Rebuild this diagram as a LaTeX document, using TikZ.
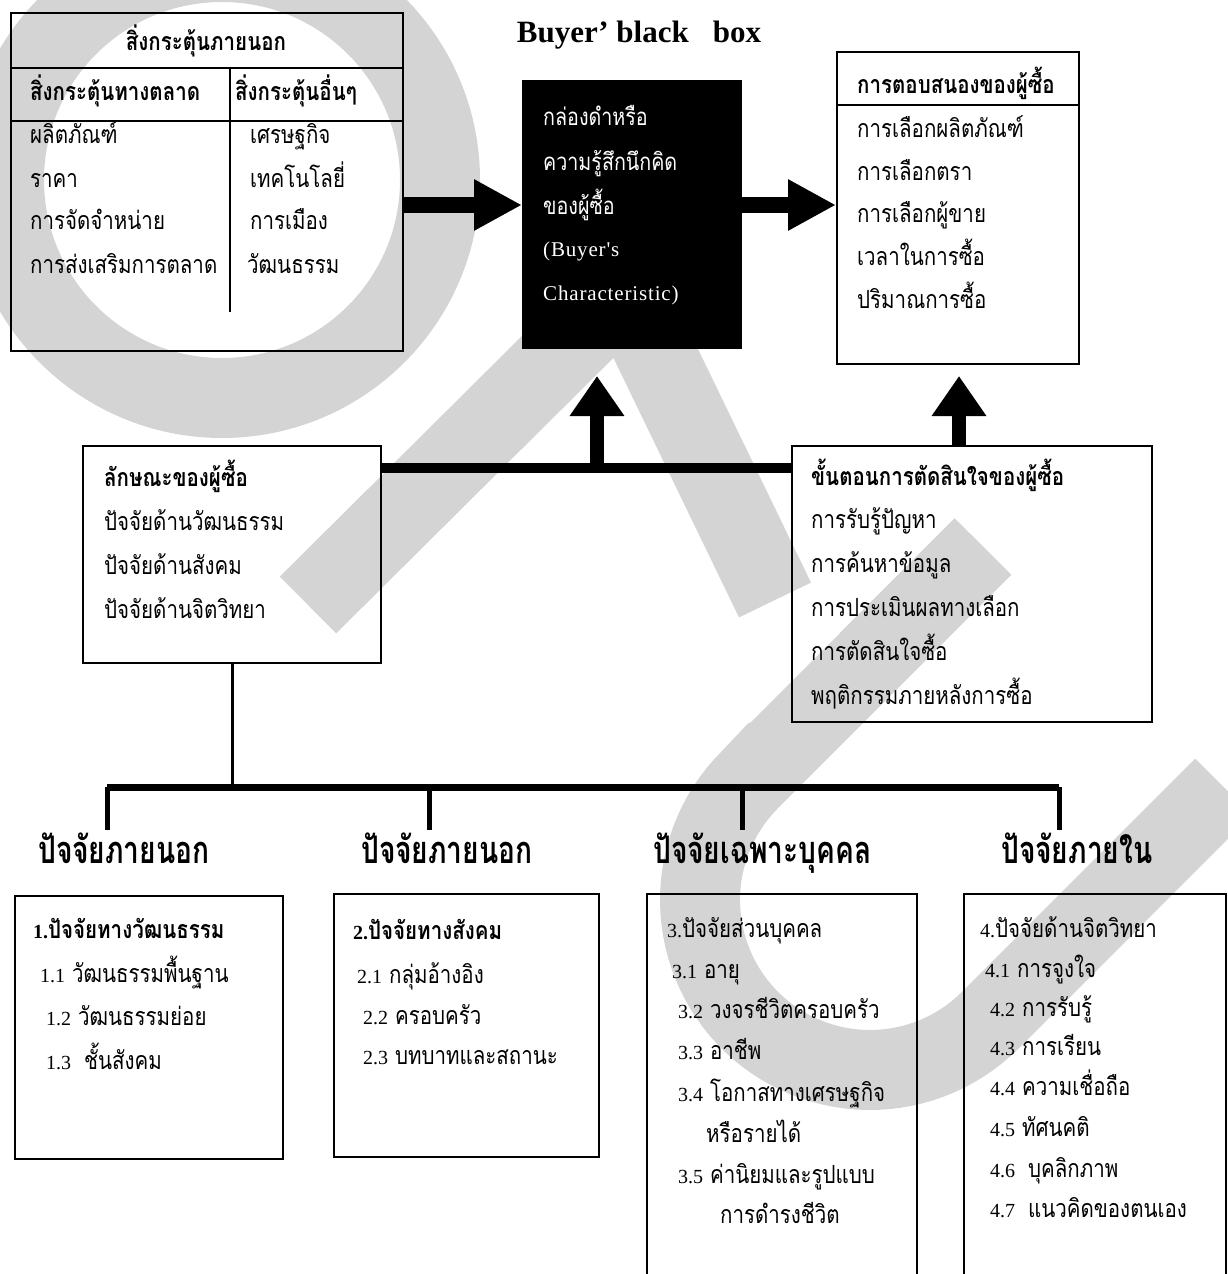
\documentclass[tikz,border=0pt]{standalone}
\usepackage{fontspec}
\setmainfont{Liberation Serif}
\newfontfamily\thai[Script=Thai, FakeStretch=0.82]{Loma}
\newfontfamily\thaiwide[Script=Thai, FakeStretch=0.74]{Loma}
\newfontfamily\lat{Liberation Serif}
\newfontfamily\latsp[LetterSpace=4]{Liberation Serif}
\newcommand\dg[1]{{\lat\fontsize{20}{24}\selectfont #1}}
\usetikzlibrary{arrows.meta}
\begin{document}
\begin{tikzpicture}[x=1pt,y=-1pt,
  wm/.style={black!17},
  frame/.style={draw=black, line width=2pt, inner sep=0pt, anchor=north west},
  txt/.style={anchor=base west, yshift=-7pt, inner sep=0pt, font=\thai\fontsize{25}{28}\selectfont},
  txtb/.style={txt, font=\thai\bfseries\fontsize{25}{28}\selectfont},
  big/.style={anchor=base west, yshift=-12pt, inner sep=0pt, font=\thaiwide\bfseries\fontsize{38}{42}\selectfont},
  wtxt/.style={anchor=base west, yshift=-7pt, inner sep=0pt, text=white, font=\thai\fontsize{24}{28}\selectfont},
  wlat/.style={anchor=base west, yshift=-5pt, inner sep=0pt, text=white, font=\latsp\fontsize{21}{24}\selectfont},
  fat/.style={line width=16pt, -{Triangle[length=48pt,width=48pt]}},
  fatup/.style={line width=14pt, -{Triangle[length=40pt,width=52pt]}},
  rule/.style={line width=2pt},
]
\useasboundingbox (0,0) rectangle (1227,1274);

% ---- light grey logo in the background ----
\fill[wm, even odd rule] (222,180) circle[radius=258pt] (222,180) circle[radius=178pt];
\draw[wm, line width=80pt] (308,605) -- (625,290) -- (775,600);
\draw[wm, line width=80pt] (983,546.5) -- (749.8,779.8)
  -- plot[domain=225:45, samples=60, variable=\t] ({870+170*cos(\t)}, {900+170*sin(\t)})
  -- (1223.5,786.9);

% ---- external stimuli table ----
\node[frame, minimum width=392pt, minimum height=338pt] (stim) at (10,12) {};
\draw[rule] (stim.north west |- 0,68) -- (stim.north east |- 0,68);
\draw[rule] (stim.north west |- 0,121) -- (stim.north east |- 0,121);
\draw[rule] (230,68) -- (230,312);
\node[txtb, anchor=base] (stimh) at (206,43) {สิ่งกระตุ้นภายนอก};
\node[txtb] (mkh) at (30,93) {สิ่งกระตุ้นทางตลาด};
\node[txtb] (oth) at (235,93) {สิ่งกระตุ้นอื่นๆ};
\node[txt] (m1) at (30,136) {ผลิตภัณฑ์};
\node[txt] (m2) at (30,180) {ราคา};
\node[txt] (m3) at (30,222) {การจัดจำหน่าย};
\node[txt] (m4) at (30,266) {การส่งเสริมการตลาด};
\node[txt] (o1) at (250,136) {เศรษฐกิจ};
\node[txt] (o2) at (250,180) {เทคโนโลยี่};
\node[txt] (o3) at (250,222) {การเมือง};
\node[txt] (o4) at (247,266) {วัฒนธรรม};

% ---- black box ----
\node[font=\lat\bfseries\fontsize{31}{34}\selectfont, inner sep=0pt] (title) at (639,35) {Buyer’ black\hspace{24pt}box};
\node[frame, fill=black, minimum width=218pt, minimum height=267pt] (bb) at (522,80) {};
\node[wtxt] (bb1) at (543,118) {กล่องดำหรือ};
\node[wtxt] (bb2) at (543,163) {ความรู้สึกนึกคิด};
\node[wtxt] (bb3) at (543,207) {ของผู้ซื้อ};
\node[wlat] (bb4) at (543,251) {(Buyer's};
\node[wlat] (bb5) at (543,295) {Characteristic)};

% ---- buyer responses ----
\node[frame, minimum width=242pt, minimum height=312pt] (resp) at (836,51) {};
\draw[rule] (resp.north west |- 0,105) -- (resp.north east |- 0,105);
\node[txtb] (rh) at (857,86) {การตอบสนองของผู้ซื้อ};
\node[txt] (r1) at (857,130) {การเลือกผลิตภัณฑ์};
\node[txt] (r2) at (857,173) {การเลือกตรา};
\node[txt] (r3) at (857,215) {การเลือกผู้ขาย};
\node[txt] (r4) at (857,258) {เวลาในการซื้อ};
\node[txt] (r5) at (857,301) {ปริมาณการซื้อ};

% ---- buyer characteristics ----
\node[frame, minimum width=298pt, minimum height=217pt] (chr) at (82,445) {};
\node[txtb] (c0) at (104,479) {ลักษณะของผู้ซื้อ};
\node[txt] (c1) at (104,523) {ปัจจัยด้านวัฒนธรรม};
\node[txt] (c2) at (104,567) {ปัจจัยด้านสังคม};
\node[txt] (c3) at (104,611) {ปัจจัยด้านจิตวิทยา};

% ---- decision process ----
\node[frame, minimum width=360pt, minimum height=276pt] (dec) at (791,445) {};
\node[txtb] (d0) at (811,478) {ขั้นตอนการตัดสินใจของผู้ซื้อ};
\node[txt] (d1) at (811,521) {การรับรู้ปัญหา};
\node[txt] (d2) at (811,565) {การค้นหาข้อมูล};
\node[txt] (d3) at (811,609) {การประเมินผลทางเลือก};
\node[txt] (d4) at (811,653) {การตัดสินใจซื้อ};
\node[txt] (d5) at (811,697) {พฤติกรรมภายหลังการซื้อ};

% ---- thick connectors ----
\coordinate (ay) at (0,205);
\coordinate (bar) at (0,468);
\coordinate (tip1) at (597,376);
\coordinate (tip2) at (959,376);
\draw[fat] (stim.east |- ay) -- (bb.west |- ay);
\draw[fat] (bb.east |- ay) -- (resp.west |- ay);
\draw[line width=10pt] (chr.east |- bar) -- (dec.west |- bar);
\draw[fatup] (tip1 |- bar) -- (tip1);
\draw[fatup] (dec.north -| tip2) -- (tip2);

% ---- factor tree ----
\coordinate (tree) at (0,787);
\coordinate (leaf) at (0,830);
\node[big] (f1) at (38,851) {ปัจจัยภายนอก};
\node[big] (f2) at (361,851) {ปัจจัยภายนอก};
\node[big] (f3) at (653,851) {ปัจจัยเฉพาะบุคคล};
\node[big] (f4) at (1001,851) {ปัจจัยภายใน};
\coordinate (x1) at (107,0);
\coordinate (x2) at (429,0);
\coordinate (x3) at (742,0);
\coordinate (x4) at (1059,0);
\draw[line width=3pt] (chr.south) -- (chr.south |- tree);
\draw[line width=7pt] (x1 |- tree) -- (x4 |- tree);
\foreach \c in {x1,x2,x3,x4}
  \draw[line width=5pt] (\c |- tree) -- (\c |- leaf);

% ---- factor boxes ----
\node[frame, minimum width=268pt, minimum height=263pt] (fa) at (14,895) {};
\node[txtb] (a0) at (33,931) {\dg{1.}ปัจจัยทางวัฒนธรรม};
\node[txt] (a1) at (40,975) {\dg{1.1} วัฒนธรรมพื้นฐาน};
\node[txt] (a2) at (46,1018) {\dg{1.2} วัฒนธรรมย่อย};
\node[txt] (a3) at (46,1062) {\dg{1.3}\hspace{6pt} ชั้นสังคม};

\node[frame, minimum width=265pt, minimum height=263pt] (fb) at (333,893) {};
\node[txtb] (b0) at (353,932) {\dg{2.}ปัจจัยทางสังคม};
\node[txt] (b1) at (357,976) {\dg{2.1} กลุ่มอ้างอิง};
\node[txt] (b2) at (363,1017) {\dg{2.2} ครอบครัว};
\node[txt] (b3) at (363,1057) {\dg{2.3} บทบาทและสถานะ};

\node[frame, minimum width=270pt, minimum height=400pt] (fc) at (646,893) {};
\node[txt] (e0) at (667,930) {\dg{3.}ปัจจัยส่วนบุคคล};
\node[txt] (e1) at (672,971) {\dg{3.1} อายุ};
\node[txt] (e2) at (678,1011) {\dg{3.2} วงจรชีวิตครอบครัว};
\node[txt] (e3) at (678,1052) {\dg{3.3} อาชีพ};
\node[txt] (e4) at (678,1094) {\dg{3.4} โอกาสทางเศรษฐกิจ};
\node[txt] (e5) at (706,1135) {หรือรายได้};
\node[txt] (e6) at (678,1176) {\dg{3.5} ค่านิยมและรูปแบบ};
\node[txt] (e7) at (720,1216) {การดำรงชีวิต};

\node[frame, minimum width=262pt, minimum height=400pt] (fd) at (963,893) {};
\node[txt] (g0) at (980,930) {\dg{4.}ปัจจัยด้านจิตวิทยา};
\node[txt] (g1) at (985,970) {\dg{4.1} การจูงใจ};
\node[txt] (g2) at (990,1009) {\dg{4.2} การรับรู้};
\node[txt] (g3) at (990,1048) {\dg{4.3} การเรียน};
\node[txt] (g4) at (990,1088) {\dg{4.4} ความเชื่อถือ};
\node[txt] (g5) at (990,1129) {\dg{4.5} ทัศนคติ};
\node[txt] (g6) at (990,1170) {\dg{4.6}\hspace{6pt} บุคลิกภาพ};
\node[txt] (g7) at (990,1210) {\dg{4.7}\hspace{6pt} แนวคิดของตนเอง};
\end{tikzpicture}
\end{document}
